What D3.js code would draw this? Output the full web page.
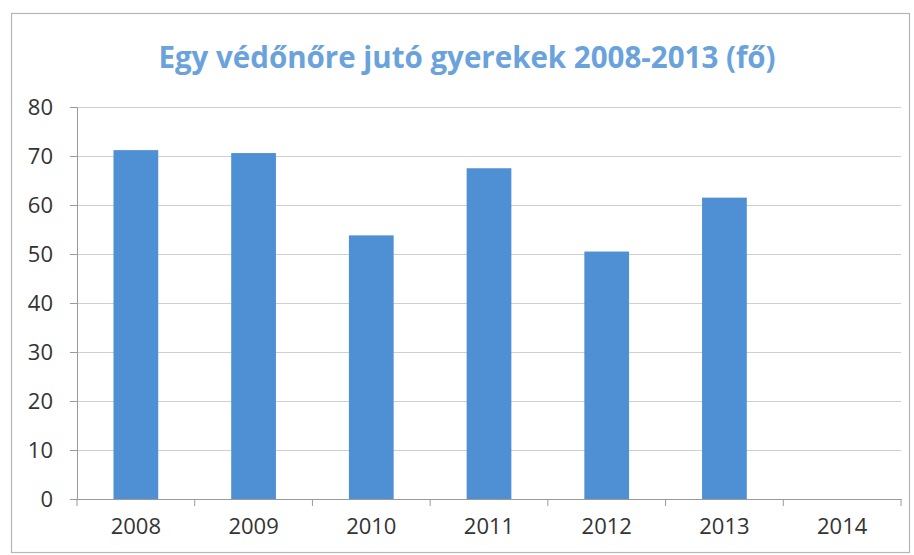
<!DOCTYPE html>
<html><head><meta charset="utf-8">
<script src="https://cdn.jsdelivr.net/npm/d3@7"></script>
<style>body{margin:0;background:#fff}svg{display:block}</style>
</head><body>
<svg id="c" width="914" height="555"></svg>
<script>
const titleText = "Egy védőnőre jutó gyerekek 2008-2013 (fő)";
const categories = ["2008","2009","2010","2011","2012","2013","2014"];
const values = [71.2, 70.6, 53.8, 67.5, 50.5, 61.5, 0];
const yTicks = [0,10,20,30,40,50,60,70,80];

const svg = d3.select("#c");
const m = {left:77, right:13, top:107, bottom:56};
const W = 914, H = 555;
const x = d3.scaleBand().domain(categories).range([m.left, W - m.right]).paddingInner(0.62).paddingOuter(0.31);
const y = d3.scaleLinear().domain([0,80]).range([H - m.bottom, m.top]);

// frame
svg.append("rect").attr("x",11.5).attr("y",13.5).attr("width",898).attr("height",539)
  .attr("fill","none").attr("stroke","#b5b5b5").attr("stroke-width",1.2);

// title
svg.append("text").attr("x",467).attr("y",68).attr("text-anchor","middle")
  .attr("font-family","'Open Sans', sans-serif").attr("font-weight","bold").attr("font-size",29.5)
  .attr("fill","#6aa2dc").text(titleText);

// gridlines
svg.append("g").selectAll("line").data(yTicks.filter(d=>d>0)).join("line")
  .attr("x1",m.left).attr("x2",W-m.right).attr("y1",d=>Math.round(y(d))+0.5).attr("y2",d=>Math.round(y(d))+0.5)
  .attr("stroke","#cfcfcf").attr("stroke-width",1.2);

// bars
svg.append("g").selectAll("rect").data(values).join("rect")
  .attr("x",(d,i)=>x(categories[i])).attr("width",x.bandwidth())
  .attr("y",d=>y(d)).attr("height",d=>y(0)-y(d)).attr("fill","#4f8fd3");

// y axis
const ya = svg.append("g").attr("transform",`translate(${m.left},0)`)
  .call(d3.axisLeft(y).tickValues(yTicks).tickSize(7).tickPadding(17));
ya.select(".domain").attr("stroke","#9a9a9a");
ya.selectAll(".tick line").attr("stroke","#9a9a9a");
ya.selectAll(".tick text").attr("font-family","'Open Sans', sans-serif").attr("font-size",22).attr("fill","#333");

// x axis
const xa = svg.append("g").attr("transform",`translate(0,${y(0)})`)
  .call(d3.axisBottom(x).tickSize(0).tickPadding(19));
xa.select(".domain").attr("stroke","#9a9a9a");
xa.selectAll(".tick text").attr("font-family","'Open Sans', sans-serif").attr("font-size",22).attr("fill","#333");
// category boundary ticks
xa.append("g").selectAll("line").data(d3.range(categories.length+1)).join("line")
  .attr("x1",i=>m.left + i*x.step()).attr("x2",i=>m.left + i*x.step())
  .attr("y1",0).attr("y2",7).attr("stroke","#9a9a9a");
</script>
</body></html>
